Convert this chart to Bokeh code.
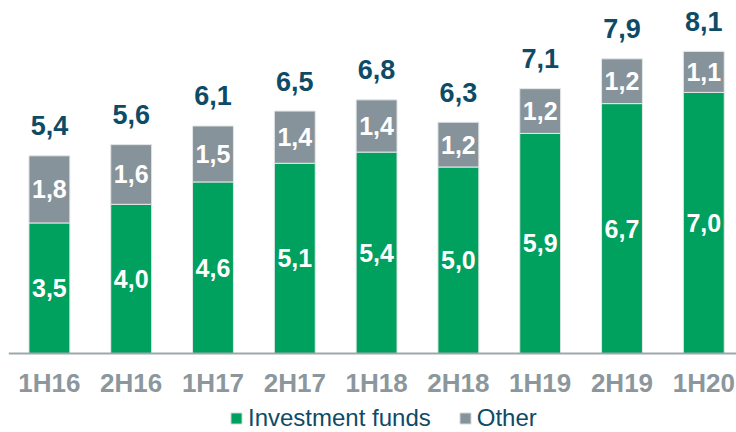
from bokeh.plotting import figure
from bokeh.models import ColumnDataSource, Range1d, FixedTicker, Legend, LegendItem
from bokeh.core.properties import value
from bokeh.embed import file_html
from bokeh.resources import INLINE

categories = ["1H16", "2H16", "1H17", "2H17", "1H18", "2H18", "1H19", "2H19", "1H20"]
investment_funds = [3.5, 4.0, 4.6, 5.1, 5.4, 5.0, 5.9, 6.7, 7.0]
other = [1.8, 1.6, 1.5, 1.4, 1.4, 1.2, 1.2, 1.2, 1.1]
totals = [5.4, 5.6, 6.1, 6.5, 6.8, 6.3, 7.1, 7.9, 8.1]

GREEN = "#00a05f"
GRAY = "#87939a"
NAVY = "#0d4b67"
LABEL_GRAY = "#8b979d"
FONT = "Liberation Sans"

def fmt(v):
    return f"{v:.1f}".replace(".", ",")

x = list(range(len(categories)))
stack_top = [a + b for a, b in zip(investment_funds, other)]
src = ColumnDataSource(dict(
    x=x,
    inv=investment_funds,
    oth=other,
    top=stack_top,
    inv_mid=[v / 2 for v in investment_funds],
    oth_mid=[a + b / 2 for a, b in zip(investment_funds, other)],
    inv_lbl=[fmt(v) for v in investment_funds],
    oth_lbl=[fmt(v) for v in other],
    tot_lbl=[fmt(v) for v in totals],
))

p = figure(frame_width=728, frame_height=432, output_backend="svg", toolbar_location=None,
           x_range=Range1d(-0.5, 8.4), y_range=Range1d(-2.118, 9.464),
           min_border_left=8, min_border_right=0, min_border_top=0, min_border_bottom=0)
p.outline_line_color = None
p.grid.visible = False
p.yaxis.visible = False
p.background_fill_color = "white"
p.border_fill_color = "white"

r1 = p.vbar(x="x", bottom=0, top="inv", width=0.5, source=src,
            fill_color=GREEN, line_color="#e4e7e8", line_width=1)
r2 = p.vbar(x="x", bottom="inv", top="top", width=0.5, source=src,
            fill_color=GRAY, line_color="#e4e7e8", line_width=1)

p.text(x="x", y="inv_mid", text="inv_lbl", source=src, text_align="center",
       text_baseline="middle", text_color="white", text_font=value(FONT),
       text_font_style="bold", text_font_size="25px")
p.text(x="x", y="oth_mid", text="oth_lbl", source=src, text_align="center",
       text_baseline="middle", text_color="white", text_font=value(FONT),
       text_font_style="bold", text_font_size="25px")
p.text(x="x", y="top", text="tot_lbl", source=src, text_align="center",
       text_baseline="alphabetic", y_offset=-30, text_color=NAVY,
       text_font=value(FONT), text_font_style="bold", text_font_size="27px")

ax = p.xaxis[0]
ax.fixed_location = 0
ax.ticker = FixedTicker(ticks=x)
ax.major_label_overrides = {i: c for i, c in enumerate(categories)}
ax.major_tick_line_color = None
ax.minor_tick_line_color = None
ax.major_tick_out = 0
ax.major_tick_in = 0
ax.axis_line_color = "#9ea7ac"
ax.axis_line_width = 2
ax.major_label_standoff = 14
ax.major_label_text_font = FONT
ax.major_label_text_font_style = "bold"
ax.major_label_text_font_size = "26px"
ax.major_label_text_color = LABEL_GRAY

legend = Legend(items=[LegendItem(label="Investment funds", renderers=[r1]),
                       LegendItem(label="Other", renderers=[r2])],
                orientation="horizontal", location=(221, 0),
                label_text_font=FONT, label_text_font_size="24px",
                label_text_color=NAVY, glyph_width=14, glyph_height=14,
                label_standoff=5, spacing=27, padding=0, margin=0,
                label_height=18,
                border_line_color=None, background_fill_alpha=0)
p.add_layout(legend, "center")

open("out.html", "w").write(file_html(p, INLINE))
